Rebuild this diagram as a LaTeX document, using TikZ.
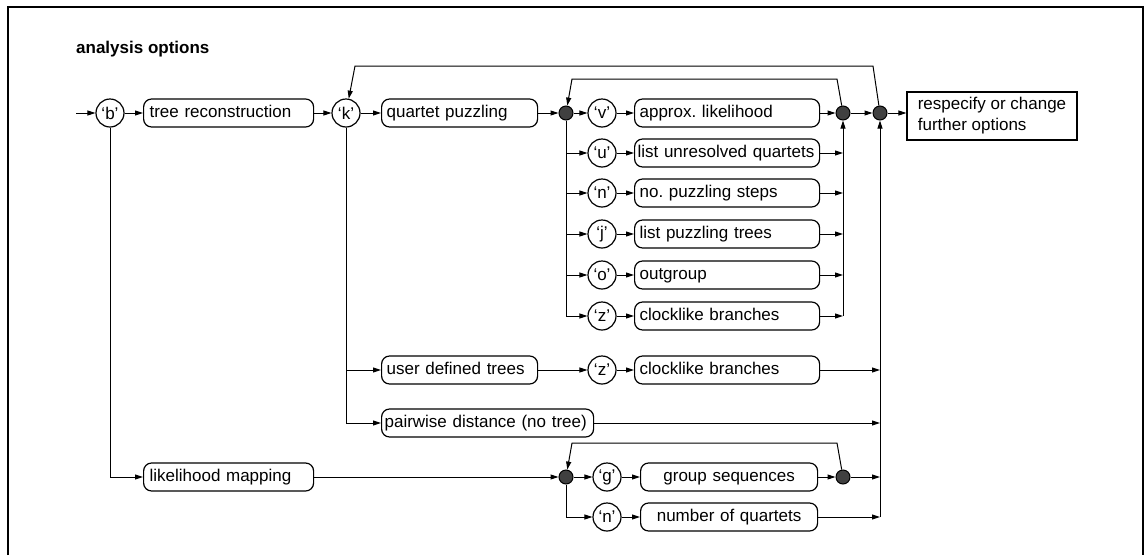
\documentclass[tikz,border=0pt]{standalone}
\usepackage{fontspec}
\setmainfont{Liberation Sans}
\usetikzlibrary{arrows.meta,positioning,calc}
\frenchspacing

\begin{document}
\begin{tikzpicture}[x=1pt, y=-1pt,
    font=\fontsize{17}{20}\selectfont,
    key/.style={circle, draw, line width=1.2pt, minimum size=28pt, inner sep=0pt},
    opt/.style={draw, rounded corners=8pt, line width=1.2pt, minimum height=28pt,
        inner xsep=5pt, inner ysep=0pt, text height=12.5pt, text depth=3.5pt,
        text width=#1, align=left, anchor=west},
    dot/.style={circle, draw, line width=1pt, fill=black!75, minimum size=14pt, inner sep=0pt},
    endbox/.style={draw, line width=1.2pt, minimum width=170pt, minimum height=48pt,
        inner xsep=9pt, align=left, font=\fontsize{17}{21}\selectfont},
    arrow/.style={-{Triangle[length=8pt,width=5pt]}, line width=1pt}]

    \useasboundingbox (0,0) rectangle (1146,555);
    \draw[line width=1.6pt] (8,555) -- (8,7) -- (1143,7) -- (1143,555);
    \node[font=\fontsize{17}{20}\bfseries, anchor=base west, inner sep=0pt] (title) at (76,53) {analysis options};

    % main row
    \coordinate (in) at (76,113);
    \node[key] (b) at (110,113) {‘b’};
    \node[opt=158pt, inner xsep=6pt] (tr) at (143,113) {tree reconstruction};
    \node[key] (k) at (346,113) {‘k’};
    \node[opt=146pt] (qp) at (381,113) {quartet puzzling};
    \node[dot] (d1) at (566,113) {};
    \node[key] (v) at (602,113) {‘v’};
    \node[opt=175pt] (av) at (634,113) {approx. likelihood};
    \node[dot] (d2) at (843,113) {};
    \node[dot] (d3) at (880,113) {};
    \node[endbox] (rs) at (992,116) {respecify or change\\further options};

    % quartet puzzling options
    \node[key] (cu) at (602,153) {‘u’};
    \node[opt=179pt, inner xsep=3pt] (bu) at (634,153) {list unresolved quartets};
    \node[key] (cn) at (602,193) {‘n’};
    \node[opt=175pt] (bn) at (634,193) {no. puzzling steps};
    \node[key] (cj) at (602,234) {‘j’};
    \node[opt=175pt] (bj) at (634,234) {list puzzling trees};
    \node[key] (co) at (602,275) {‘o’};
    \node[opt=175pt] (bo) at (634,275) {outgroup};
    \node[key] (cz) at (602,316) {‘z’};
    \node[opt=175pt] (bz) at (634,316) {clocklike branches};

    % other tree options
    \node[opt=146pt] (ud) at (381,370) {user defined trees};
    \node[key] (cz2) at (602,370) {‘z’};
    \node[opt=175pt] (bz2) at (634,370) {clocklike branches};
    \node[opt=206pt, inner xsep=3pt] (pw) at (381,423) {pairwise distance (no tree)};

    % likelihood mapping
    \node[opt=158pt, inner xsep=6pt] (lm) at (143,477) {likelihood mapping};
    \node[dot] (d4) at (566,477) {};
    \node[key] (g) at (607,477) {‘g’};
    \node[opt=167pt, align=center] (gs) at (640,477) {group sequences};
    \node[dot] (d5) at (843,477) {};
    \node[key] (n2) at (607,517) {‘n’};
    \node[opt=167pt, align=center] (nq) at (640,517) {number of quartets};

    \draw[arrow] (in) -- (b);
    \draw[arrow] (b) -- (tr);
    \draw[arrow] (tr) -- (k);
    \draw[arrow] (k) -- (qp);
    \draw[arrow] (qp) -- (d1);
    \draw[arrow] (d1) -- (v);
    \draw[arrow] (v) -- (av);
    \draw[arrow] (av) -- (d2);
    \draw[arrow] (d2) -- (d3);
    \draw[arrow] (d3) -- (d3 -| rs.west);

    \draw[arrow] (d1) |- (cu);
    \draw[arrow] (d1) |- (cn);
    \draw[arrow] (d1) |- (cj);
    \draw[arrow] (d1) |- (co);
    \draw[arrow] (d1) |- (cz);
    \draw[arrow] (cu) -- (bu);
    \draw[arrow] (cn) -- (bn);
    \draw[arrow] (cj) -- (bj);
    \draw[arrow] (co) -- (bo);
    \draw[arrow] (cz) -- (bz);
    \draw[arrow] (bu) -- (bu -| d2);
    \draw[arrow] (bn) -- (bn -| d2);
    \draw[arrow] (bj) -- (bj -| d2);
    \draw[arrow] (bo) -- (bo -| d2);
    \draw[arrow] (bz) -- (bz -| d2);
    \draw[arrow] (bz -| d2) -- (d2);
    \draw[arrow] (d2) -- ($(d2)+(-6,-34)$) -- ($(d1)+(6,-34)$) -- (d1);
    \draw[arrow] (d3) -- ($(d3)+(-7,-47)$) -- ($(k)+(9,-47)$) -- (k);

    \draw[arrow] (k) |- (ud);
    \draw[arrow] (k) |- (pw);
    \draw[arrow] (ud) -- (cz2);
    \draw[arrow] (cz2) -- (bz2);
    \draw[arrow] (bz2) -- (bz2 -| d3);
    \draw[arrow] (pw) -- (pw -| d3);

    \draw[arrow] (b) |- (lm);
    \draw[arrow] (lm) -- (d4);
    \draw[arrow] (d4) -- (g);
    \draw[arrow] (g) -- (gs);
    \draw[arrow] (gs) -- (d5);
    \draw[arrow] (d5) -- (d5 -| d3);
    \draw[arrow] (d5) -- ($(d5)+(-6,-34)$) -- ($(d4)+(6,-34)$) -- (d4);
    \draw[arrow] (d4) |- (n2);
    \draw[arrow] (n2) -- (nq);
    \draw[arrow] (nq) -- (nq -| d3);
    \draw[arrow] (nq -| d3) -- (d3);
\end{tikzpicture}
\end{document}
